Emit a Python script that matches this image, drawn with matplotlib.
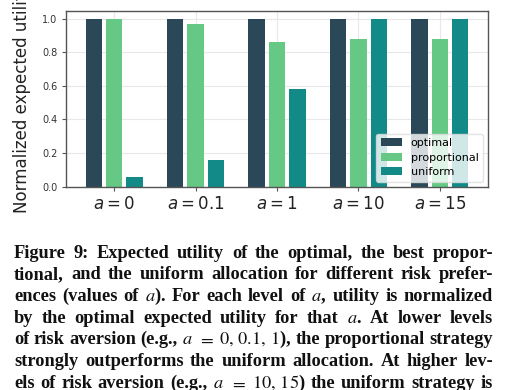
import numpy as np
import matplotlib.pyplot as plt

# values
risk_levels = ['0', '0.1', '1', '10', '15']
optimal = [1.0, 1.0, 1.0, 1.0, 1.0]
proportional = [1.0, 0.966, 0.861, 0.881, 0.881]
uniform = [0.054, 0.157, 0.58, 1.0, 1.0]

series_names = ['optimal', 'proportional', 'uniform']
series_colors = ['#2a4858', '#65c884', '#128a88']

caption_lines = [
    "Figure 9: Expected utility of the optimal, the best propor-",
    "tional, and the uniform allocation for different risk prefer-",
    "ences (values of $a$). For each level of $a$, utility is normalized",
    "by the optimal expected utility for that $a$. At lower levels",
    r"of risk aversion (e.g., $a$ $=$ $0,\,0.1,\,1$), the proportional strategy",
    "strongly outperforms the uniform allocation. At higher lev-",
    r"els of risk aversion (e.g., $a$ $=$ $10,\,15$) the uniform strategy is",
]

W, H = 507, 390
fig = plt.figure(figsize=(W / 100, H / 100), dpi=100)
ax = fig.add_axes([66 / W, 1 - 186.5 / H, (488 - 66) / W, (186.5 - 11) / H])

x = np.arange(len(risk_levels))
for i, (name, vals, col) in enumerate(zip(series_names, [optimal, proportional, uniform], series_colors)):
    ax.bar(x + (i - 1) * 0.25, vals, width=0.2, color=col, label=name, zorder=2)

ax.set_xlim(-0.59, 4.59)
ax.set_ylim(0, 1.046)
ax.set_yticks([0, 0.2, 0.4, 0.6, 0.8, 1.0])
ax.set_yticklabels(['0.0', '0.2', '0.4', '0.6', '0.8', '1.0'], fontsize=7, color='#333333')
ax.set_xticks(x)
ax.set_xticklabels([f'$a = {r}$' for r in risk_levels], fontsize=12, color='#222222')
ax.grid(color='#e8e8e8', lw=0.8)
ax.set_axisbelow(True)
for s in ax.spines.values():
    s.set_color('#555555')
    s.set_linewidth(1.0)
ax.tick_params(length=3, width=0.8, color='#555555', pad=3)
ax.set_ylabel('Normalized expected utility', fontsize=12, color='#222222', labelpad=8)
ax.legend(loc='lower right', fontsize=8, framealpha=0.8, handlelength=1.9,
          labelspacing=0.4, borderaxespad=0.45, edgecolor='#dddddd')

# caption, justified word by word
renderer = fig.canvas.get_renderer()
left, right = 14, 493
base0, step = 257.5, 21.67
for k, line in enumerate(caption_lines):
    words = line.split(' ')
    texts = []
    for w in words:
        t = fig.text(0, 0, w, fontsize=13.2, fontweight='bold', family='Liberation Serif',
                     math_fontfamily='stix', va='baseline', ha='left', color='#111111')
        texts.append(t)
    widths = [t.get_window_extent(renderer).width for t in texts]
    gap = (right - left - sum(widths)) / (len(words) - 1)
    xpos = left
    y = 1 - (base0 + k * step) / H
    for t, wd in zip(texts, widths):
        t.set_position((xpos / W, y))
        xpos += wd + gap

fig.savefig('out.png', dpi=100)
